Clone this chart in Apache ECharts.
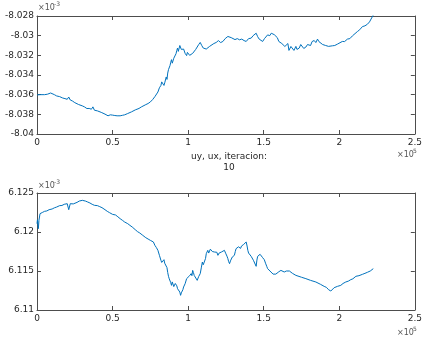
<!DOCTYPE html>
<html>
<head>
<meta charset="utf-8">
<script src="https://cdn.jsdelivr.net/npm/echarts@6/dist/echarts.min.js"></script>
<style>
  html, body { margin: 0; padding: 0; background: #fff; }
  #chart { width: 425px; height: 342px; }
</style>
</head>
<body>
<div id="chart"></div>
<script>
// x in units of 1e5, y in units of 1e-3 (as the axis labels show them)
const topX = [0, 0.02, 0.05, 0.07, 0.08, 0.09, 0.10, 0.115, 0.13, 0.15, 0.17, 0.185, 0.20, 0.21, 0.22, 0.235, 0.25, 0.275, 0.30, 0.315,
  0.33, 0.345, 0.36, 0.37, 0.38, 0.39, 0.40, 0.425, 0.45, 0.47, 0.485, 0.50, 0.515, 0.53, 0.55, 0.565, 0.58, 0.60, 0.625, 0.65,
  0.675, 0.69, 0.70, 0.72, 0.735, 0.75, 0.765, 0.78, 0.79,
  0.80, 0.81, 0.82, 0.825, 0.83, 0.835, 0.84, 0.845, 0.85, 0.855, 0.86, 0.865, 0.87, 0.875, 0.88, 0.885, 0.89, 0.895, 0.90, 0.905,
  0.91, 0.915, 0.92, 0.925, 0.93, 0.935, 0.94, 0.945, 0.95, 0.955, 0.96, 0.965, 0.97, 0.98, 0.99, 0.995, 1.00, 1.01, 1.02, 1.03,
  1.04, 1.05, 1.06, 1.07, 1.08, 1.09, 1.10, 1.11, 1.12, 1.13, 1.142, 1.155, 1.17, 1.186, 1.20, 1.215, 1.23, 1.245, 1.263, 1.274,
  1.285, 1.296, 1.31, 1.325, 1.34, 1.355, 1.37, 1.384, 1.40, 1.417, 1.43, 1.44, 1.45, 1.46, 1.47, 1.48, 1.493, 1.505, 1.515, 1.526,
  1.54, 1.55, 1.56, 1.57, 1.58, 1.59, 1.60, 1.61, 1.62, 1.63, 1.64, 1.65, 1.66, 1.667, 1.674, 1.68, 1.69, 1.70, 1.713, 1.72,
  1.735, 1.745, 1.757, 1.765, 1.779, 1.79, 1.80, 1.81, 1.82, 1.834, 1.845, 1.856, 1.865, 1.878, 1.89, 1.90, 1.91, 1.92, 1.929, 1.94,
  1.955, 1.97, 1.988, 2.00, 2.02, 2.035, 2.054, 2.07, 2.087, 2.10, 2.12, 2.135, 2.153, 2.17, 2.186, 2.20, 2.208, 2.225];
const topY = [-8.03603, -8.03600, -8.03600, -8.03595, -8.03590, -8.03583, -8.03593, -8.03600, -8.03613, -8.03620, -8.03634, -8.03640, -8.03647, -8.03624, -8.03654, -8.03665, -8.03681, -8.03700, -8.03714, -8.03725,
  -8.03741, -8.03740, -8.03748, -8.03724, -8.03758, -8.03741, -8.03765, -8.03780, -8.03798, -8.03815, -8.03805, -8.03808, -8.03812, -8.03815, -8.03815, -8.03810, -8.03805, -8.03792, -8.03775, -8.03755,
  -8.03740, -8.03725, -8.03721, -8.03701, -8.03690, -8.03674, -8.03650, -8.03620, -8.03600,
  -8.03573, -8.03530, -8.03506, -8.03470, -8.03479, -8.03450, -8.03506, -8.03480, -8.03462, -8.03420, -8.03445, -8.03380, -8.03345, -8.03360, -8.03304, -8.03270, -8.03244, -8.03280, -8.03261, -8.03230,
  -8.03217, -8.03240, -8.03183, -8.03150, -8.03126, -8.03160, -8.03143, -8.03100, -8.03109, -8.03140, -8.03160, -8.03120, -8.03136, -8.03180, -8.03203, -8.03170, -8.03176, -8.03200, -8.03210, -8.03180,
  -8.03160, -8.03140, -8.03126, -8.03090, -8.03069, -8.03100, -8.03126, -8.03110, -8.03136, -8.03120, -8.03109, -8.03090, -8.03080, -8.03069, -8.03050, -8.03070, -8.03059, -8.03030, -8.03008, -8.02992,
  -8.03020, -8.03025, -8.03040, -8.03030, -8.03042, -8.03035, -8.03050, -8.03059, -8.03030, -8.03025, -8.03000, -8.03010, -8.02975, -8.03010, -8.03035, -8.03020, -8.03059, -8.03030, -8.03010, -8.02992,
  -8.03000, -8.02975, -8.02968, -8.02990, -8.02975, -8.03020, -8.03059, -8.03040, -8.03080, -8.03076, -8.03110, -8.03109, -8.03080, -8.03150, -8.03160, -8.03110, -8.03126, -8.03150, -8.03109, -8.03140,
  -8.03126, -8.03090, -8.03092, -8.03130, -8.03116, -8.03090, -8.03076, -8.03100, -8.03060, -8.03049, -8.03070, -8.03035, -8.03060, -8.03059, -8.03090, -8.03082, -8.03100, -8.03115, -8.03109, -8.03120,
  -8.03103, -8.03100, -8.03086, -8.03090, -8.03059, -8.03060, -8.03035, -8.03030, -8.03002, -8.02990, -8.02958, -8.02940, -8.02908, -8.02900, -8.02884, -8.02860, -8.02840, -8.02790];

const botX = [0, 0.003, 0.009, 0.013, 0.02, 0.035, 0.05, 0.065, 0.08, 0.10, 0.115, 0.13, 0.15, 0.165, 0.18, 0.19, 0.20, 0.21, 0.22, 0.23,
  0.24, 0.25, 0.265, 0.28, 0.30, 0.32, 0.335, 0.35, 0.365, 0.38, 0.39, 0.40, 0.415, 0.43, 0.45, 0.465, 0.48, 0.50, 0.51, 0.52,
  0.535, 0.55, 0.565, 0.58, 0.60, 0.615, 0.63, 0.64, 0.65, 0.665, 0.68, 0.69, 0.70, 0.71, 0.72, 0.735, 0.75, 0.76,
  0.77, 0.78, 0.79, 0.80, 0.805, 0.81, 0.815, 0.82, 0.825, 0.83, 0.835, 0.84, 0.845, 0.85, 0.855, 0.86, 0.865, 0.87, 0.875, 0.88,
  0.885, 0.89, 0.895, 0.90, 0.905, 0.91, 0.915, 0.92, 0.925, 0.93, 0.935, 0.94, 0.945, 0.95, 0.955, 0.96, 0.965, 0.97, 0.975, 0.98,
  0.985, 0.99, 0.995, 1.00, 1.01, 1.02, 1.025, 1.03, 1.035, 1.04, 1.05, 1.06, 1.07, 1.08, 1.087, 1.094, 1.10, 1.109, 1.115, 1.12,
  1.125, 1.13, 1.136, 1.142, 1.147, 1.152, 1.16, 1.167, 1.175, 1.185, 1.19, 1.197, 1.205, 1.212, 1.22, 1.23, 1.24, 1.25, 1.257, 1.263,
  1.268, 1.274, 1.28, 1.286, 1.292, 1.30, 1.306, 1.312, 1.317, 1.325, 1.333, 1.34, 1.347, 1.353, 1.36, 1.367, 1.375, 1.384, 1.39, 1.395,
  1.40, 1.408, 1.417, 1.425, 1.432, 1.44, 1.45, 1.455, 1.46, 1.468, 1.476, 1.485, 1.493, 1.50, 1.504, 1.512, 1.52, 1.526, 1.535, 1.548,
  1.555, 1.562, 1.57, 1.58, 1.59, 1.60, 1.614, 1.625, 1.636, 1.65, 1.66, 1.67, 1.69, 1.713, 1.75, 1.779, 1.81, 1.845, 1.875, 1.90,
  1.915, 1.929, 1.937, 1.944, 1.955, 1.966, 1.975, 1.988, 2.00, 2.01, 2.025, 2.043, 2.06, 2.076, 2.09, 2.11, 2.13, 2.153, 2.17, 2.186,
  2.205, 2.225];
const botY = [6.12107, 6.12158, 6.12043, 6.12150, 6.12235, 6.12250, 6.12265, 6.12270, 6.12286, 6.12295, 6.12310, 6.12320, 6.12338, 6.12340, 6.12355, 6.12345, 6.12363, 6.12286, 6.12363, 6.12372,
  6.12360, 6.12385, 6.12380, 6.12397, 6.12406, 6.12397, 6.12385, 6.12372, 6.12355, 6.12342, 6.12320, 6.12338, 6.12325, 6.12312, 6.12286, 6.12265, 6.12248, 6.12226, 6.12215, 6.12218,
  6.12195, 6.12171, 6.12150, 6.12128, 6.12107, 6.12085, 6.12064, 6.12050, 6.12030, 6.12005, 6.11987, 6.11975, 6.11957, 6.11945, 6.11927, 6.11910, 6.11893, 6.11885,
  6.11872, 6.11829, 6.11800, 6.11765, 6.11740, 6.11701, 6.11680, 6.11637, 6.11610, 6.11594, 6.11630, 6.11645, 6.11600, 6.11615, 6.11580, 6.11543, 6.11480, 6.11432, 6.11400, 6.11380,
  6.11350, 6.11316, 6.11360, 6.11346, 6.11300, 6.11295, 6.11340, 6.11359, 6.11310, 6.11273, 6.11290, 6.11252, 6.11230, 6.11188, 6.11220, 6.11209, 6.11260, 6.11295, 6.11280, 6.11337,
  6.11320, 6.11402, 6.11380, 6.11423, 6.11440, 6.11466, 6.11440, 6.11508, 6.11480, 6.11444, 6.11420, 6.11380, 6.11430, 6.11466, 6.11540, 6.11615, 6.11580, 6.11594, 6.11660, 6.11722,
  6.11700, 6.11765, 6.11730, 6.11743, 6.11780, 6.11786, 6.11750, 6.11770, 6.11743, 6.11720, 6.11740, 6.11701, 6.11730, 6.11710, 6.11743, 6.11760, 6.11765, 6.11720, 6.11690, 6.11658,
  6.11620, 6.11594, 6.11630, 6.11650, 6.11679, 6.11660, 6.11701, 6.11750, 6.11786, 6.11770, 6.11810, 6.11829, 6.11790, 6.11820, 6.11808, 6.11840, 6.11820, 6.11872, 6.11820, 6.11765,
  6.11730, 6.11720, 6.11688, 6.11700, 6.11637, 6.11620, 6.11560, 6.11640, 6.11688, 6.11680, 6.11714, 6.11690, 6.11671, 6.11690, 6.11645, 6.11600, 6.11560, 6.11530, 6.11510, 6.11487,
  6.11470, 6.11460, 6.11444, 6.11460, 6.11466, 6.11490, 6.11508, 6.11490, 6.11487, 6.11500, 6.11490, 6.11500, 6.11470, 6.11444, 6.11420, 6.11402, 6.11380, 6.11359, 6.11330, 6.11303,
  6.11290, 6.11261, 6.11270, 6.11243, 6.11260, 6.11286, 6.11270, 6.11303, 6.11295, 6.11316, 6.11340, 6.11359, 6.11370, 6.11389, 6.11400, 6.11432, 6.11440, 6.11457, 6.11470, 6.11483,
  6.11500, 6.11530];

const xTicks = ['0', '0.5', '1', '1.5', '2', '2.5'];
const xLabel = 'uy, ux, iteracion:\n10';

const FONT = 'DejaVu Sans';
const AXIS = '#4d4d4d';
const TEXT = '#262626';
const LINE = '#0072bd';

function pairs(xs, ys) {
  return xs.map((x, i) => [x, ys[i]]);
}

function xAx(grid, bottom) {
  return {
    type: 'value', gridIndex: grid, position: bottom ? 'bottom' : 'top',
    min: 0, max: 2.5, interval: 0.5,
    axisLine: { show: true, onZero: false, lineStyle: { color: AXIS, width: 1 } },
    axisTick: { show: true, inside: true, length: 4, lineStyle: { color: AXIS } },
    axisLabel: {
      show: bottom, color: TEXT, fontFamily: FONT, fontSize: 9, margin: 4,
      formatter: (v) => xTicks[Math.round(v / 0.5)]
    },
    splitLine: { show: false }
  };
}

function yAx(grid, left, min, max, interval) {
  return {
    type: 'value', gridIndex: grid, position: left ? 'left' : 'right',
    min: min, max: max, interval: interval,
    axisLine: { show: true, onZero: false, lineStyle: { color: AXIS, width: 1 } },
    axisTick: { show: true, inside: true, length: 4, lineStyle: { color: AXIS } },
    axisLabel: {
      show: left, color: TEXT, fontFamily: FONT, fontSize: 9, margin: 3,
      formatter: (v) => String(parseFloat(v.toFixed(4)))
    },
    splitLine: { show: false }
  };
}

const chart = echarts.init(document.getElementById('chart'), null, { renderer: 'canvas' });

const option = {
  animation: false,
  backgroundColor: '#fff',
  grid: [
    { left: 37, right: 6, top: 16, height: 118 },
    { left: 37, right: 6, top: 193, height: 117 }
  ],
  xAxis: [xAx(0, true), xAx(0, false), xAx(1, true), xAx(1, false)],
  yAxis: [
    yAx(0, true, -8.04, -8.028, 0.002), yAx(0, false, -8.04, -8.028, 0.002),
    yAx(1, true, 6.11, 6.125, 0.005), yAx(1, false, 6.11, 6.125, 0.005)
  ],
  series: [
    {
      type: 'line', xAxisIndex: 0, yAxisIndex: 0, data: pairs(topX, topY),
      showSymbol: false, clip: true, lineStyle: { color: LINE, width: 1 }, itemStyle: { color: LINE }
    },
    {
      type: 'line', xAxisIndex: 2, yAxisIndex: 2, data: pairs(botX, botY),
      showSymbol: false, clip: true, lineStyle: { color: LINE, width: 1 }, itemStyle: { color: LINE }
    }
  ],
  graphic: [
    { type: 'text', x: 229, y: 151, style: { text: xLabel, fill: TEXT, font: '9px "DejaVu Sans"', align: 'center', lineHeight: 11 } },
    { type: 'text', left: 38, top: 4, style: { text: '×10', fill: '#555', font: '8px "DejaVu Sans"' } },
    { type: 'text', left: 54, top: 1, style: { text: '-3', fill: '#555', font: '6px "DejaVu Sans"' } },
    { type: 'text', left: 38, top: 182, style: { text: '×10', fill: '#555', font: '8px "DejaVu Sans"' } },
    { type: 'text', left: 54, top: 179, style: { text: '-3', fill: '#555', font: '6px "DejaVu Sans"' } },
    { type: 'text', left: 397, top: 151, style: { text: '×10', fill: '#555', font: '8px "DejaVu Sans"' } },
    { type: 'text', left: 413, top: 148, style: { text: '5', fill: '#555', font: '6px "DejaVu Sans"' } },
    { type: 'text', left: 397, top: 329, style: { text: '×10', fill: '#555', font: '8px "DejaVu Sans"' } },
    { type: 'text', left: 413, top: 326, style: { text: '5', fill: '#555', font: '6px "DejaVu Sans"' } }
  ]
};

chart.setOption(option);
</script>
</body>
</html>
